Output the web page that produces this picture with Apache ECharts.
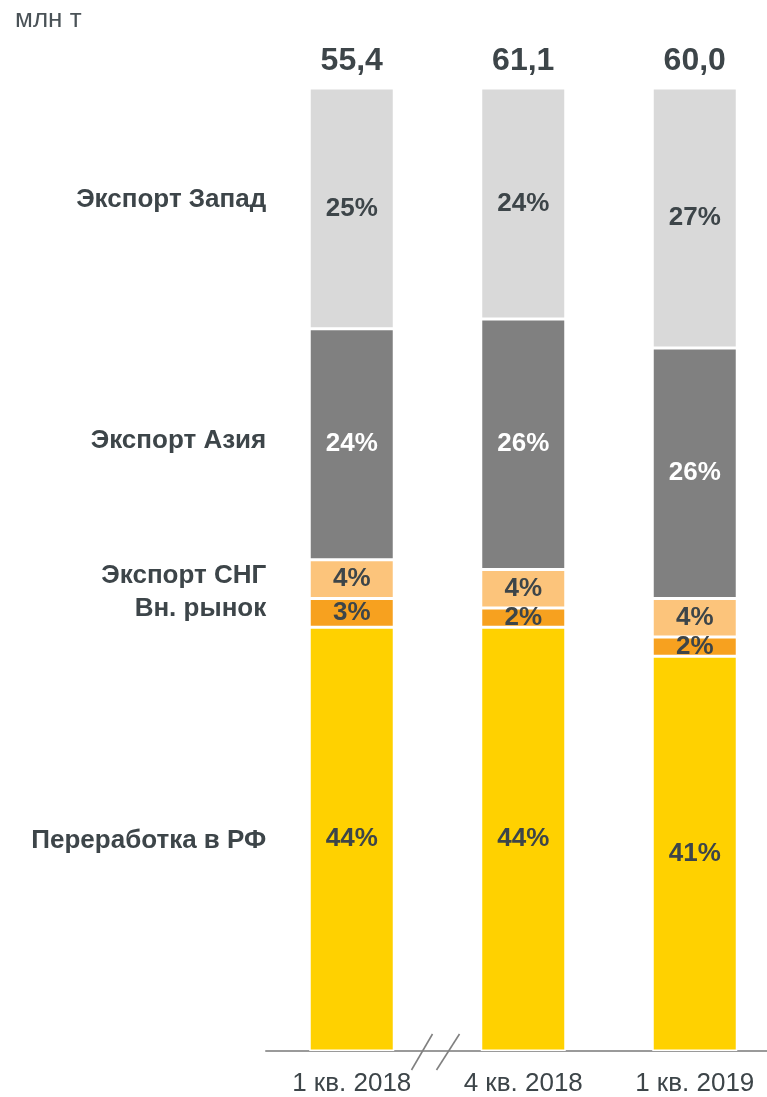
<!DOCTYPE html>
<html>
<head>
<meta charset="utf-8">
<script src="https://cdn.jsdelivr.net/npm/echarts@6/dist/echarts.min.js"></script>
<style>
  html, body { margin: 0; padding: 0; background: #fff; }
  #chart { width: 767px; height: 1097px; }
</style>
</head>
<body>
<div id="chart"></div>
<script>
const categories = ['1 кв. 2018', '4 кв. 2018', '1 кв. 2019'];
const totals = ['55,4', '61,1', '60,0'];
const seriesNames = ['Переработка в РФ', 'Вн. рынок', 'Экспорт СНГ', 'Экспорт Азия', 'Экспорт Запад'];
const pererabotka = [44, 44, 41];
const vnRynok = [3, 2, 2];
const eksportSNG = [4, 4, 4];
const eksportAsia = [24, 26, 26];
const eksportZapad = [25, 24, 27];
const unitLabel = 'млн т';

const values = [pererabotka, vnRynok, eksportSNG, eksportAsia, eksportZapad];
const colors = ['#FFD100', '#F7A11F', '#FCC47B', '#808080', '#D9D9D9'];
const labelColors = ['#3d4549', '#3d4549', '#3d4549', '#ffffff', '#3d4549'];
const nameOffsets = [[0, 2], [0, -4], [0, -3], [0, -3], [0, -9]];
const TXT = '#3d4549';
const FONT = '"Liberation Sans", Arial, sans-serif';
const BW = 85;

const chart = echarts.init(document.getElementById('chart'), null, { renderer: 'canvas' });

const series = [];
values.forEach((arr, i) => {
  series.push({
    name: seriesNames[i], type: 'bar', stack: 'main', barWidth: BW, barGap: '-100%',
    data: arr,
    itemStyle: { color: colors[i], borderColor: '#ffffff', borderWidth: 1.5 },
    label: {
      show: true, position: 'inside', formatter: p => p.value + '%',
      color: labelColors[i], fontFamily: FONT, fontWeight: 'bold', fontSize: 26
    },
    silent: true
  });
});
values.forEach((arr, i) => {
  series.push({
    name: seriesNames[i] + ' (подпись)', type: 'bar', stack: 'names', barWidth: BW, barGap: '-100%',
    data: arr.map((v, j) => j === 0 ? {
      value: v,
      label: {
        show: true, position: [-43, '50%'], align: 'right', verticalAlign: 'middle',
        offset: nameOffsets[i],
        formatter: seriesNames[i], color: TXT, fontFamily: FONT, fontWeight: 'bold', fontSize: 26
      }
    } : v),
    itemStyle: { color: 'transparent' },
    label: { show: false },
    silent: true
  });
});
series.push({
  name: 'Итого', type: 'bar', stack: 'tot', barWidth: BW, barGap: '-100%',
  data: categories.map((c, j) => values.reduce((s, a) => s + a[j], 0)),
  itemStyle: { color: 'transparent' },
  label: {
    show: true, position: 'top', distance: 11, formatter: p => totals[p.dataIndex],
    color: TXT, fontFamily: FONT, fontWeight: 'bold', fontSize: 32
  },
  silent: true
});

chart.setOption({
  animation: false,
  backgroundColor: '#ffffff',
  title: {
    text: unitLabel, left: 15, top: 7, padding: 0,
    textStyle: { color: '#4a5257', fontFamily: FONT, fontWeight: 'normal', fontSize: 26 }
  },
  grid: { left: 266, width: 514.5, top: 88, bottom: 46, containLabel: false, outerBoundsMode: 'none' },
  xAxis: {
    type: 'category', data: categories,
    axisLine: { show: true, lineStyle: { color: '#9a9a9a', width: 2 } },
    axisTick: { show: false },
    axisLabel: { color: TXT, fontFamily: FONT, fontSize: 26, margin: 20 }
  },
  yAxis: { type: 'value', min: 0, max: 100, show: false, splitLine: { show: false } },
  series: series
});

// axis break marks between the first and second categories
const p0 = chart.convertToPixel({ gridIndex: 0 }, [0, 0]);
const p1 = chart.convertToPixel({ gridIndex: 0 }, [1, 0]);
const mid = (p0[0] + p1[0]) / 2;
const y = p0[1];
const ls = { stroke: '#808080', lineWidth: 1.6 };
chart.setOption({
  graphic: [
    { type: 'line', shape: { x1: mid - 26, y1: y + 19, x2: mid - 5, y2: y - 17 }, style: ls, z: 100 },
    { type: 'line', shape: { x1: mid - 1, y1: y + 19, x2: mid + 22, y2: y - 17 }, style: ls, z: 100 }
  ]
});
</script>
</body>
</html>
